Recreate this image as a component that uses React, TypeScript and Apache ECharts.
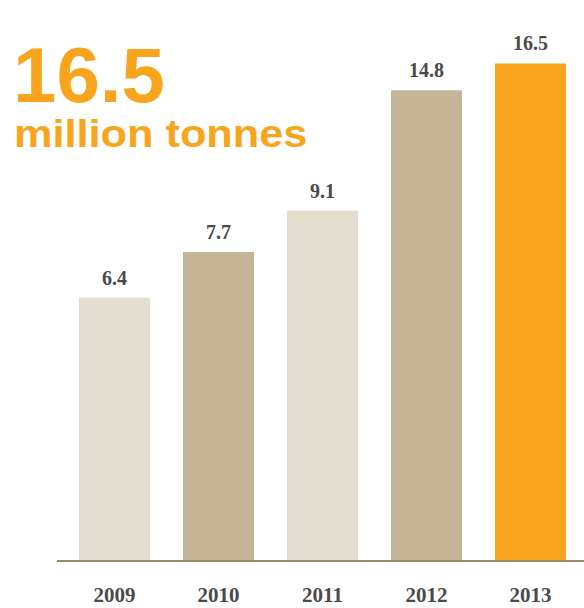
import React, { useEffect, useRef } from "react";
import * as echarts from "echarts";

const years = ["2009", "2010", "2011", "2012", "2013"];
const tonnes = [6.4, 7.7, 9.1, 14.8, 16.5];
const barColors = ["#E3DDCF", "#C5B496", "#E3DDCF", "#C5B496", "#F8A51D"];
const headline = "16.5";
const unitText = "million tonnes";

export default function App() {
  const ref = useRef<HTMLDivElement>(null);
  useEffect(() => {
    document.body.style.margin = "0";
    if (!ref.current) return;
    const chart = echarts.init(ref.current, null, { renderer: "svg" });
    chart.setOption({
      animation: false,
      grid: { left: 62.5, right: 1.5, top: 46, bottom: 47, outerBoundsMode: "none", containLabel: false },
      xAxis: {
        type: "category",
        data: years,
        axisLine: { show: false },
        axisTick: { show: false },
        axisLabel: {
          margin: 23,
          fontFamily: "Liberation Serif",
          fontWeight: "bold",
          fontSize: 21,
          color: "#4A4A4A",
        },
      },
      yAxis: {
        type: "log",
        min: 2.21,
        max: 17.7,
        startValue: 1,
        show: false,
        splitLine: { show: false },
      },
      graphic: [
        {
          type: "line",
          shape: { x1: 57, y1: 561, x2: 584, y2: 561 },
          style: { stroke: "#9B8A66", lineWidth: 2 },
          z: 10,
        },
        {
          type: "text",
          x: 13,
          y: 75,
          style: {
            text: headline,
            font: "bold 78px 'Liberation Sans', Arial, sans-serif",
            fill: "#F8A51D",
            verticalAlign: "middle",
            align: "left",
          },
        },
        {
          type: "text",
          x: 14,
          y: 134,
          scaleX: 1.11,
          style: {
            text: unitText,
            font: "bold 39px 'Liberation Sans', Arial, sans-serif",
            fill: "#F8A51D",
            verticalAlign: "middle",
            align: "left",
          },
        },
      ],
      series: [
        {
          type: "bar",
          barWidth: 71,
          clip: true,
          data: tonnes.map((v, i) => ({ value: v, itemStyle: { color: barColors[i] } })),
          label: {
            show: true,
            position: "top",
            distance: 10,
            fontFamily: "Liberation Serif",
            fontWeight: "bold",
            fontSize: 20,
            color: "#4A4A4A",
            formatter: (p: any) => p.value.toFixed(1),
          },
        },
      ],
    });
    return () => chart.dispose();
  }, []);
  return <div ref={ref} style={{ width: 584, height: 608 }} />;
}
